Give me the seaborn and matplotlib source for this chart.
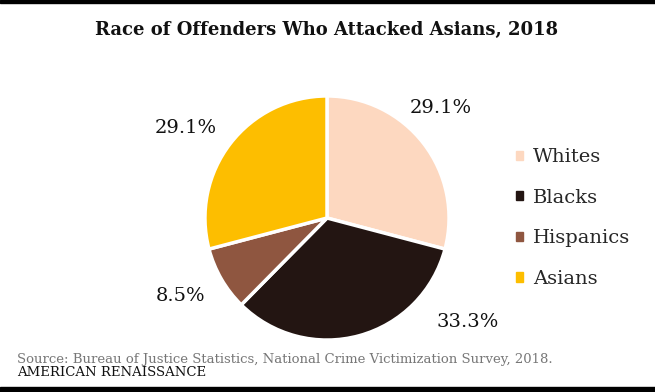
import matplotlib
matplotlib.use("Agg")
import matplotlib.pyplot as plt
from matplotlib.patches import Rectangle
import seaborn as sns

# Data
races = ["Whites", "Blacks", "Hispanics", "Asians"]
shares = [29.1, 33.3, 8.5, 29.1]
colors = ["#FDD8C0", "#231512", "#8F5640", "#FDBE00"]
# label anchors (in pie radius units), placed like the original
label_x = [0.93, 1.15, -1.20, -1.16]
label_y = [0.90, -0.85, -0.64, 0.74]

TITLE = "Race of Offenders Who Attacked Asians, 2018"
SOURCE = "Source: Bureau of Justice Statistics, National Crime Victimization Survey, 2018."
BRAND = "AMERICAN RENAISSANCE"

sns.set_theme(style="white")
plt.rcParams["font.family"] = ["DejaVu Serif"]

fig = plt.figure(figsize=(6.55, 3.92), dpi=100)
fig.patch.set_facecolor("white")

# pie axes: center at (327, 218) px from top-left, radius ~122 px
half = 1.393
ax = fig.add_axes([(327 - 170) / 655, (174 - 170) / 392, 340 / 655, 340 / 392])
wedges, _ = ax.pie(
    shares,
    colors=sns.color_palette(colors),
    startangle=90,
    counterclock=False,
    wedgeprops=dict(edgecolor="white", linewidth=2.5),
)
ax.set_xlim(-half, half)
ax.set_ylim(-half, half)
ax.set_aspect("equal")
ax.axis("off")

for v, x, y in zip(shares, label_x, label_y):
    ax.text(x, y, f"{v:.1f}%", ha="center", va="center", fontsize=14, color="#111111")

# legend
handles = [Rectangle((0, 0), 1, 1, color=c) for c in colors]
fig.legend(
    handles, races,
    loc="center left", bbox_to_anchor=(498 / 655, 1 - 218 / 392),
    frameon=False, fontsize=14, handlelength=0.36, handleheight=0.36,
    handletextpad=0.55, labelspacing=1.16,
)

fig.text(327 / 655, 1 - 30 / 392, TITLE, ha="center", va="center",
         fontsize=13, fontweight="bold", color="#111111")
fig.text(17 / 655, 1 - 360 / 392, SOURCE, ha="left", va="center",
         fontsize=9.5, color="#777777")
fig.text(17 / 655, 1 - 373 / 392, BRAND, ha="left", va="center",
         fontsize=9.5, color="#111111")

# black bars at top and bottom
fig.add_artist(Rectangle((0, 1 - 3 / 392), 1, 3 / 392, transform=fig.transFigure,
                         color="black", zorder=10))
fig.add_artist(Rectangle((0, 0), 1, 5 / 392, transform=fig.transFigure,
                         color="black", zorder=10))

fig.savefig("out.png", dpi=100, facecolor="white")
